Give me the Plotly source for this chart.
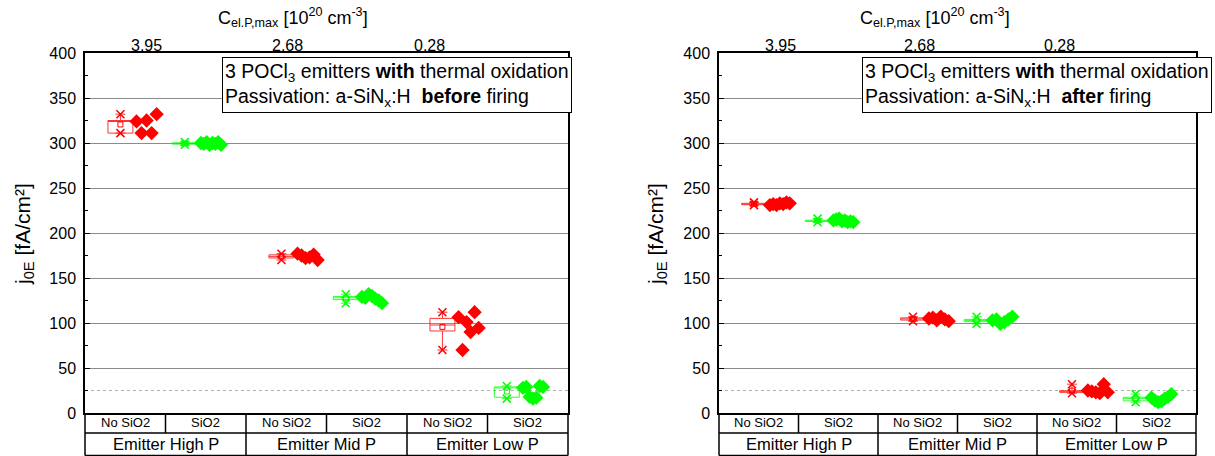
import numpy as np
import plotly.graph_objects as go

# ---------------- data ----------------
categories = ["No SiO2", "SiO2", "No SiO2", "SiO2", "No SiO2", "SiO2"]
groups = ["Emitter High P", "Emitter Mid P", "Emitter Low P"]
cel_labels = ["3.95", "2.68", "0.28"]
cel_pos = [0.27, 2.02, 3.78]
y_ticks = [0, 50, 100, 150, 200, 250, 300, 350, 400]
ref_level = 25

# before firing (left panel), values in plotted left-to-right order
before_high_nosio2 = [324, 311, 325, 311, 332]
before_high_sio2 = [300, 299, 301, 298, 300, 299, 301, 298]
before_mid_nosio2 = [177, 175, 172, 173, 176, 170]
before_mid_sio2 = [129, 128, 132, 130, 127, 125, 122]
before_low_nosio2 = [106.5, 70, 101, 90, 112, 94.5]
before_low_sio2 = [28, 29, 18, 16, 17, 30, 29]

# after firing (right panel)
after_high_nosio2 = [231, 232, 231, 233, 232, 234, 233]
after_high_sio2 = [214, 215, 216, 213, 214, 212, 213, 212]
after_mid_nosio2 = [105, 106, 103, 107, 104, 102]
after_mid_sio2 = [103, 104, 99, 101, 104, 107]
after_low_nosio2 = [25, 24, 23, 22, 32, 23]
after_low_sio2 = [17, 14, 12, 13, 16, 18, 21]

before = [before_high_nosio2, before_high_sio2, before_mid_nosio2,
          before_mid_sio2, before_low_nosio2, before_low_sio2]
after = [after_high_nosio2, after_high_sio2, after_mid_nosio2,
         after_mid_sio2, after_low_nosio2, after_low_sio2]

RED = "#ff0000"
GREEN = "#00ff00"
colors = [RED, GREEN] * 3
box_offsets = [-0.06, -0.26] * 3

W, H = 1215, 456
MT, MB = 53, 43
PH = H - MT - MB
FONT = "Arial, Liberation Sans, sans-serif"

fig = go.Figure()

panels = [("x", "y", before), ("x2", "y2", after)]
for xa, ya, data in panels:
    for i, vals in enumerate(data):
        v = np.array(vals, dtype=float)
        col = colors[i]
        bx = i + box_offsets[i]
        q1, med, q3 = np.percentile(v, [25, 50, 75])
        fig.add_trace(go.Box(
            x=[bx], q1=[q1], median=[med], q3=[q3],
            lowerfence=[v.min()], upperfence=[v.max()],
            width=0.31, whiskerwidth=0.4, boxpoints=False,
            line=dict(color=col, width=1), fillcolor="rgba(255,255,255,0)",
            opacity=0.8, xaxis=xa, yaxis=ya, showlegend=False, hoverinfo="skip"))
        fig.add_trace(go.Scatter(
            x=[bx, bx], y=[v.min(), v.max()], mode="markers",
            marker=dict(symbol="x-thin-open", size=8, color=col,
                        line=dict(color=col, width=1.5)),
            xaxis=xa, yaxis=ya, showlegend=False, hoverinfo="skip"))
        fig.add_trace(go.Scatter(
            x=[bx], y=[v.mean()], mode="markers",
            marker=dict(symbol="square-open", size=5, color=col,
                        line=dict(color=col, width=1)),
            xaxis=xa, yaxis=ya, showlegend=False, hoverinfo="skip"))
        xs = bx + np.linspace(0.2, 0.45, len(v))
        fig.add_trace(go.Scatter(
            x=xs, y=v, mode="markers",
            marker=dict(symbol="diamond", size=11, color=col, line=dict(width=0)),
            xaxis=xa, yaxis=ya, showlegend=False, hoverinfo="skip"))

dom_left = [85 / W, 568 / W]
dom_right = [719 / W, 1196 / W]

xcommon = dict(range=[-0.5, 5.5], showticklabels=False, ticks="", showgrid=False,
               zeroline=False, showline=True, mirror=True, linecolor="black", linewidth=1.5)
ycommon = dict(range=[0, 400], tickvals=y_ticks, ticks="inside", ticklen=5,
               tickcolor="black", tickwidth=1, showgrid=True, gridcolor="#8c8c8c",
               gridwidth=1, zeroline=False, showline=True, mirror=True,
               linecolor="black", linewidth=1.5, ticklabelstandoff=4,
               tickfont=dict(family=FONT, size=16, color="black"),
               minor=dict(dtick=25, ticks="inside", ticklen=3, tickcolor="black", showgrid=False))

fig.update_layout(
    width=W, height=H,
    margin=dict(l=0, r=0, t=MT, b=MB),
    paper_bgcolor="white", plot_bgcolor="white",
    font=dict(family=FONT, color="black"),
    boxmode="overlay",
    xaxis=dict(domain=dom_left, anchor="y", **xcommon),
    yaxis=dict(anchor="x", **ycommon),
    xaxis2=dict(domain=dom_right, anchor="y2", **xcommon),
    yaxis2=dict(anchor="x2", **ycommon),
)

def py(px):
    """pixel row -> paper y"""
    return (H - MB - px) / PH

shapes = []
annotations = []
row1 = py(433)
row2 = py(455.5)
for k, (xa, ya, xd) in enumerate([("x", "y", dom_left), ("x2", "y2", dom_right)]):
    xdom = xa + " domain"
    # reference dotted line
    shapes.append(dict(type="line", xref=xdom, yref=ya, x0=0, x1=1, y0=ref_level, y1=ref_level,
                       line=dict(color="#b0b0b0", width=1, dash="dot"), layer="below"))
    # table lines
    def fx(v):
        return (v + 0.5) / 6.0
    lw = dict(color="black", width=1.5)
    shapes.append(dict(type="line", xref=xdom, yref="paper", x0=0, x1=1, y0=row1, y1=row1, line=lw))
    shapes.append(dict(type="line", xref=xdom, yref="paper", x0=0, x1=1, y0=row2, y1=row2, line=lw))
    for edge in (0, 1):
        shapes.append(dict(type="line", xref=xdom, yref="paper", x0=edge, x1=edge, y0=0, y1=row2, line=lw))
    for b in range(1, 6):
        shapes.append(dict(type="line", xref=xdom, yref="paper", x0=fx(b - 0.5), x1=fx(b - 0.5),
                           y0=0, y1=row1, line=lw))
    for b in (2, 4):
        shapes.append(dict(type="line", xref=xdom, yref="paper", x0=fx(b - 0.5), x1=fx(b - 0.5),
                           y0=row1, y1=row2, line=lw))
    for i, c in enumerate(categories):
        annotations.append(dict(text=c, xref=xa, yref="paper", x=i, y=py(423), showarrow=False,
                                font=dict(size=13, family=FONT), xanchor="center", yanchor="middle"))
    for g, gname in enumerate(groups):
        annotations.append(dict(text=gname, xref=xa, yref="paper", x=2 * g + 0.5, y=py(444.5),
                                showarrow=False, font=dict(size=16.5, family=FONT),
                                xanchor="center", yanchor="middle"))
    for lab, pos in zip(cel_labels, cel_pos):
        annotations.append(dict(text=lab, xref=xa, yref="paper", x=pos, y=py(45), showarrow=False,
                                font=dict(size=16, family=FONT), xanchor="center", yanchor="middle"))

# titles
title_txt = "C<sub>el.P,max</sub> [10<sup>20</sup> cm<sup>-3</sup>]"
for xc in (293, 935):
    annotations.append(dict(text=title_txt, xref="paper", yref="paper", x=xc / W, y=py(18),
                            showarrow=False, font=dict(size=18, family=FONT),
                            xanchor="center", yanchor="middle"))
ytitle = "j<sub>0E</sub> [fA/cm²]"
for xc in (24, 657):
    annotations.append(dict(text=ytitle, xref="paper", yref="paper", x=xc / W, y=py(234),
                            showarrow=False, textangle=-90, font=dict(size=21, family=FONT),
                            xanchor="center", yanchor="middle"))

box_texts = [
    "3 POCl<sub>3</sub> emitters <b>with</b> thermal oxidation<br>Passivation: a-SiN<sub>x</sub>:H &nbsp;<b>before</b> firing",
    "3 POCl<sub>3</sub> emitters <b>with</b> thermal oxidation<br>Passivation: a-SiN<sub>x</sub>:H &nbsp;<b>after</b> firing",
]
for xl, txt in zip((222, 862), box_texts):
    annotations.append(dict(text=txt, xref="paper", yref="paper", x=xl / W, y=py(57),
                            xanchor="left", yanchor="top", showarrow=False, align="left",
                            bordercolor="black", borderwidth=1, borderpad=2, bgcolor="white",
                            font=dict(size=19.5, family=FONT)))

fig.update_layout(shapes=shapes, annotations=annotations)
fig.write_html("out.html")
